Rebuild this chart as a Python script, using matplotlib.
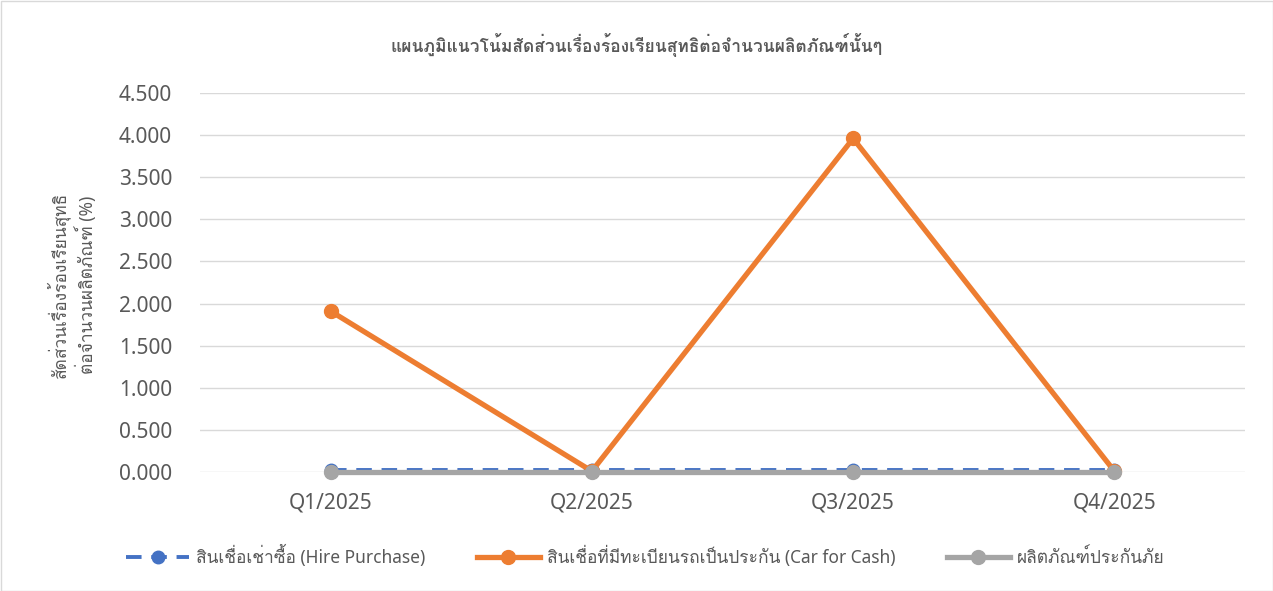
import matplotlib
matplotlib.use("Agg")
import matplotlib.pyplot as plt
from matplotlib import font_manager, ft2font

# === data ===
quarters = ["Q1/2025", "Q2/2025", "Q3/2025", "Q4/2025"]
hire_purchase = [0.025, 0.025, 0.025, 0.025]
car_for_cash = [1.91, 0.01, 3.96, 0.01]
insurance = [0.0, 0.0, 0.0, 0.0]
yticks = [0.0, 0.5, 1.0, 1.5, 2.0, 2.5, 3.0, 3.5, 4.0, 4.5]

title = "แผนภูมิแนวโน้มสัดส่วนเรื่องร้องเรียนสุทธิต่อจำนวนผลิตภัณฑ์นั้นๆ"
ylabel = "สัดส่วนเรื่องร้องเรียนสุทธิ\nต่อจำนวนผลิตภัณฑ์ (%)"
labels = ["สินเชื่อเช่าซื้อ (Hire Purchase)",
          "สินเชื่อที่มีทะเบียนรถเป็นประกัน (Car for Cash)",
          "ผลิตภัณฑ์ประกันภัย"]


def thai_family():
    # look for any installed font that covers Thai
    for f in font_manager.fontManager.ttflist:
        try:
            cmap = ft2font.FT2Font(f.fname).get_charmap()
        except Exception:
            continue
        if 0x0E01 in cmap and 0x0E2A in cmap:
            return f.name
    return None


fam = thai_family()
families = ["DejaVu Sans"]
if fam:
    families = ["Noto Sans", fam, "DejaVu Sans"]
plt.rcParams["font.family"] = families

grey = "#595959"
fig = plt.figure(figsize=(12.73, 5.91), dpi=100)
ax = fig.add_axes([200 / 1273, 1 - 472 / 591, 1045 / 1273, (472 - 93) / 591])

x = range(len(quarters))
ax.plot(x, hire_purchase, color="#4472C4", lw=2.8, ls=(0, (4, 2.5)),
        marker="o", ms=9, label=labels[0], zorder=3, clip_on=False)
ax.plot(x, car_for_cash, color="#ED7D31", lw=3.8,
        marker="o", ms=10, label=labels[1], zorder=4, clip_on=False)
ax.plot(x, insurance, color="#A5A5A5", lw=3.8,
        marker="o", ms=10, label=labels[2], zorder=5, clip_on=False)

ax.set_xlim(-0.5, len(quarters) - 0.5)
ax.set_ylim(0, 4.5)
ax.set_yticks(yticks)
ax.set_yticklabels([f"{v:.3f}" for v in yticks])
ax.set_xticks(list(x))
ax.set_xticklabels(quarters)
ax.tick_params(axis="both", length=0, labelsize=15, labelcolor=grey)
ax.tick_params(axis="x", pad=15)
ax.tick_params(axis="y", pad=20)
ax.grid(axis="y", color="#D9D9D9", lw=1)
ax.set_axisbelow(True)
for s in ax.spines.values():
    s.set_visible(False)

fig.text(0.5, 1 - 45 / 591, title, ha="center", va="center",
         fontsize=12.5, fontweight="bold", color=grey)
fig.text(72 / 1273, 1 - 285 / 591, ylabel, ha="center", va="center",
         rotation=90, fontsize=12.5, color=grey, linespacing=1.3)

leg = fig.legend(loc="center", bbox_to_anchor=(0.507, 1 - 556 / 591), ncol=3,
                 frameon=False, fontsize=12.5, handlelength=3.6,
                 columnspacing=3.0, handletextpad=0.4)
for t in leg.get_texts():
    t.set_color(grey)

fig.patches.append(plt.Rectangle((0.5 / 1273, 0.5 / 591), 1 - 1 / 1273, 1 - 1 / 591,
                                 transform=fig.transFigure, fill=False,
                                 edgecolor="#D9D9D9", lw=1))
fig.savefig("out.png", dpi=100)
